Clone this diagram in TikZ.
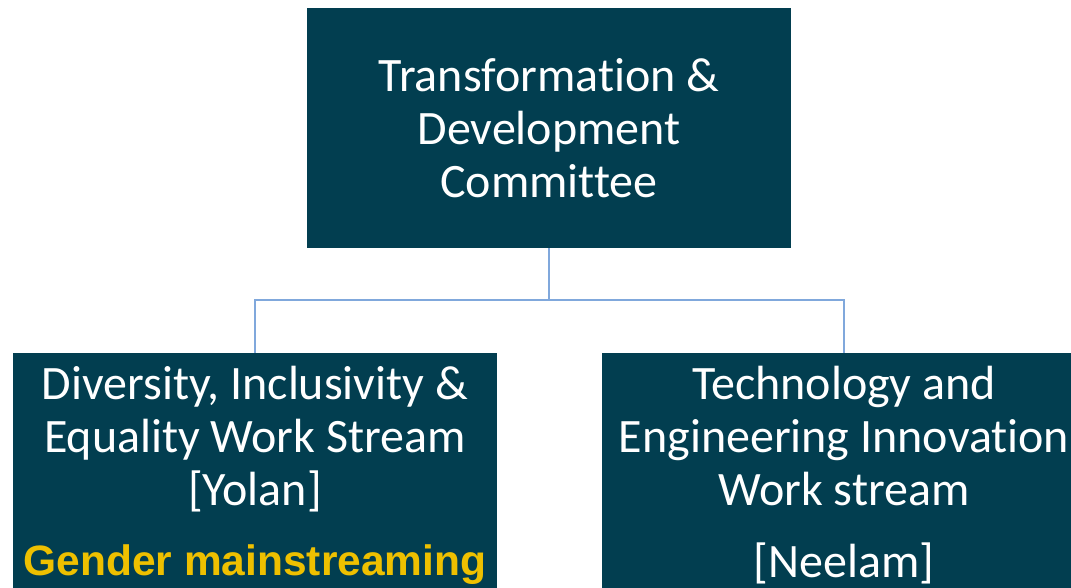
\documentclass[tikz,border=0pt]{standalone}
\usepackage{fontspec}
\setmainfont{Carlito}[Ligatures=CommonOff]
\newfontfamily\headfont{Liberation Sans}
\usepackage{tikz}
\usetikzlibrary{calc}
\definecolor{tdteal}{RGB}{2,62,80}
\definecolor{tdgold}{RGB}{238,192,0}
\definecolor{tdlink}{RGB}{128,168,220}
\tikzset{
   board/.style={fill=tdteal, draw=none, text=white, align=center,
      inner sep=0pt, minimum width=484pt,
      font=\fontsize{48}{53}\selectfont},
   link/.style={draw=tdlink, line width=2pt},
   }

\begin{document}
\begin{tikzpicture}[x=1pt,y=-1pt]
            \path[use as bounding box, clip] (0,0) rectangle (1071,587);
            \node[board, minimum height=240pt, anchor=north] (tdc) at (549,8)
               {Transformation \&\\Development\\Committee};
            \node[board, minimum height=245pt, anchor=north] (dies) at (255,353)
               {Diversity, Inclusivity \&\\Equality Work Stream\\{}[Yolan]\\[17pt]%
                {\headfont\bfseries\color{tdgold}\fontsize{42.5}{53}\selectfont Gender mainstreaming}};
            \node[board, minimum height=243pt, anchor=north] (tei) at (844,353)
               {Technology and\\Engineering Innovation\\Work stream\\[19pt]{}[Neelam]};
            \coordinate (fork) at (549,300);
            \draw[link] (tdc.south) -- (fork);
            \draw[link] (dies.north) |- (fork) -| (tei.north);
        \end{tikzpicture}
\end{document}
